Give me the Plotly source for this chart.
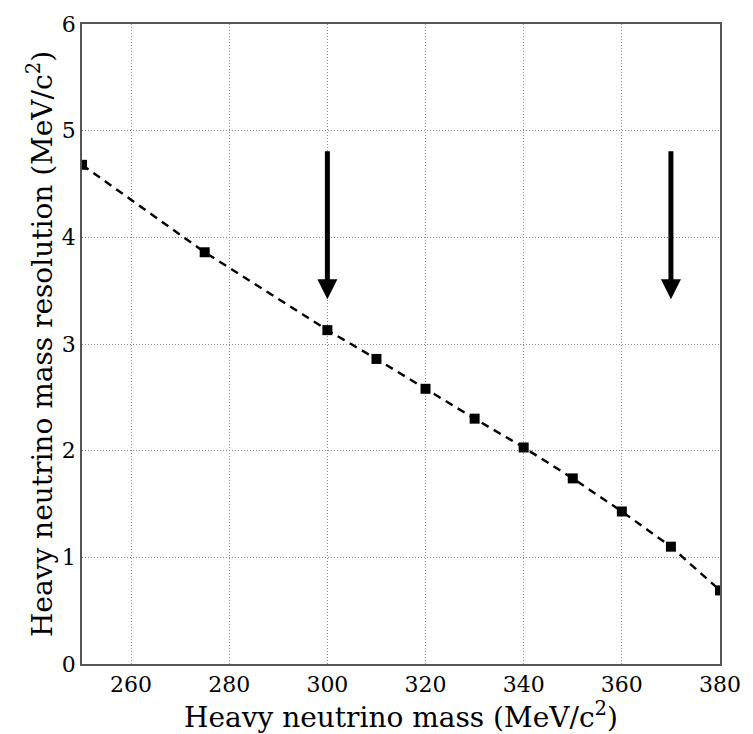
import plotly.graph_objects as go

mass = [250, 275, 300, 310, 320, 330, 340, 350, 360, 370, 380]
resolution = [4.68, 3.86, 3.13, 2.86, 2.58, 2.30, 2.03, 1.74, 1.43, 1.10, 0.69]
arrow_x = [300, 370]
arrow_top = 4.82
arrow_tip = 3.42

FONT = "DejaVu Serif"

fig = go.Figure()
fig.add_trace(go.Scatter(
    x=mass, y=resolution, mode="lines+markers",
    line=dict(color="black", width=2.4, dash="8px,6px"),
    marker=dict(symbol="square", size=10, color="black"),
    cliponaxis=True, showlegend=False,
))

for ax_x in arrow_x:
    fig.add_annotation(
        x=ax_x, y=arrow_tip, ax=ax_x, ay=arrow_top,
        xref="x", yref="y", axref="x", ayref="y",
        showarrow=True, arrowhead=2, arrowsize=0.8, arrowwidth=5,
        arrowcolor="black", text="",
    )

axis_common = dict(
    showline=True, linecolor="#555555", linewidth=1.5, mirror=True,
    showgrid=True, gridcolor="#8a8a8a", griddash="1px,2px", gridwidth=1,
    zeroline=False, ticks="", tickfont=dict(family=FONT, size=22, color="black"),
)

fig.update_layout(
    width=753, height=734,
    paper_bgcolor="white", plot_bgcolor="white",
    margin=dict(l=82, r=26, t=20, b=70),
    xaxis=dict(range=[250, 380], tickvals=[260, 280, 300, 320, 340, 360, 380],
               title=dict(text="Heavy neutrino mass (MeV/c<sup>2</sup>)",
                          font=dict(family=FONT, size=28, color="black"), standoff=3),
               **axis_common),
    yaxis=dict(range=[0, 6], tickvals=[0, 1, 2, 3, 4, 5, 6],
               title=dict(text="Heavy neutrino mass resolution (MeV/c<sup>2</sup>)",
                          font=dict(family=FONT, size=28, color="black"), standoff=1),
               **axis_common),
)

fig.write_html("out.html")
